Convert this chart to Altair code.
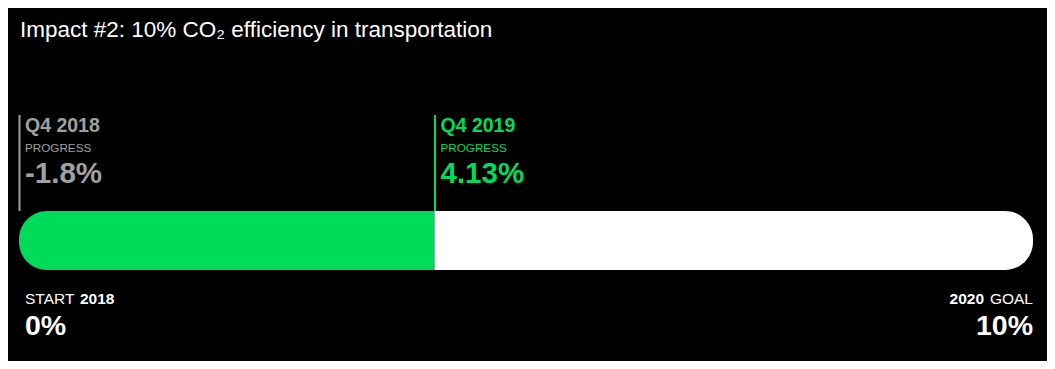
import altair as alt
import pandas as pd

TITLE = "Impact #2: 10% CO₂ efficiency in transportation"
quarters = ["Q4 2018", "Q4 2019"]
progress = [-1.8, 4.13]
marker_colors = ["#A0A0A0", "#00DC5A"]
progress_word = "PROGRESS"
start_value = 0
goal_value = 10
current_progress = 4.13
start_word = "START"
goal_word = "GOAL"
start_year = "2018"
goal_year = "2020"

FONT = "Liberation Sans"
GREEN = "#00DC5A"
W, H = 1006, 353

x_scale = alt.Scale(domain=[start_value, goal_value], clamp=True)
X = lambda f: alt.X(f, type="quantitative", scale=x_scale, axis=None)

markers = pd.DataFrame({
    "quarter": quarters,
    "value": progress,
    "label": [f"{v:g}%" for v in progress],
    "word": [progress_word] * len(quarters),
})
color = alt.Color("quarter:N", scale=alt.Scale(domain=quarters, range=marker_colors), legend=None)

done = pd.DataFrame({"start": [start_value], "end": [current_progress]})
remaining = pd.DataFrame({"start": [current_progress], "end": [goal_value]})
start_df = pd.DataFrame({"value": [start_value], "word": [start_word], "year": [start_year],
                         "pct": [f"{start_value:g}%"]})
goal_df = pd.DataFrame({"value": [goal_value], "word": [goal_word], "year": [goal_year],
                        "pct": [f"{goal_value:g}%"]})
title_df = pd.DataFrame({"t": [TITLE]})

title = alt.Chart(title_df).mark_text(
    align="left", baseline="alphabetic", font=FONT, fontSize=22.5, color="white"
).encode(x=alt.value(1), y=alt.value(29), text="t:N")

green_bar = alt.Chart(done).mark_rect(
    color=GREEN, cornerRadiusTopLeft=28, cornerRadiusBottomLeft=28
).encode(x=X("start"), x2="end", y=alt.value(203), y2=alt.value(262))

white_bar = alt.Chart(remaining).mark_rect(
    color="white", cornerRadiusTopRight=28, cornerRadiusBottomRight=28, x2Offset=8
).encode(x=X("start"), x2="end", y=alt.value(203), y2=alt.value(262))

rules = alt.Chart(markers).mark_rule(strokeWidth=2, xOffset=0.5).encode(
    x=X("value"), y=alt.value(107), y2=alt.value(203), color=color
)
q_text = alt.Chart(markers).mark_text(
    align="left", baseline="alphabetic", dx=6, font=FONT, fontWeight="bold", fontSize=19.5
).encode(x=X("value"), y=alt.value(124), text="quarter:N", color=color)
p_text = alt.Chart(markers).mark_text(
    align="left", baseline="alphabetic", dx=6, font=FONT, fontSize=11.7
).encode(x=X("value"), y=alt.value(144), text="word:N", color=color)
v_text = alt.Chart(markers).mark_text(
    align="left", baseline="alphabetic", dx=6, font=FONT, fontWeight="bold", fontSize=29.5
).encode(x=X("value"), y=alt.value(175), text="label:N", color=color)

s_word = alt.Chart(start_df).mark_text(
    align="left", baseline="alphabetic", dx=6, font=FONT, fontSize=15.5, color="white"
).encode(x=X("value"), y=alt.value(296), text="word:N")
s_year = alt.Chart(start_df).mark_text(
    align="left", baseline="alphabetic", dx=61, font=FONT, fontSize=15.5, fontWeight="bold", color="white"
).encode(x=X("value"), y=alt.value(296), text="year:N")
s_pct = alt.Chart(start_df).mark_text(
    align="left", baseline="alphabetic", dx=6, font=FONT, fontSize=28.5, fontWeight="bold", color="white"
).encode(x=X("value"), y=alt.value(327), text="pct:N")

g_word = alt.Chart(goal_df).mark_text(
    align="right", baseline="alphabetic", dx=8, font=FONT, fontSize=15.5, color="white"
).encode(x=X("value"), y=alt.value(296), text="word:N")
g_year = alt.Chart(goal_df).mark_text(
    align="right", baseline="alphabetic", dx=-41, font=FONT, fontSize=15.5, fontWeight="bold", color="white"
).encode(x=X("value"), y=alt.value(296), text="year:N")
g_pct = alt.Chart(goal_df).mark_text(
    align="right", baseline="alphabetic", dx=8, font=FONT, fontSize=28.5, fontWeight="bold", color="white"
).encode(x=X("value"), y=alt.value(327), text="pct:N")

chart = alt.layer(
    title, green_bar, white_bar, rules, q_text, p_text, v_text,
    s_word, s_year, s_pct, g_word, g_year, g_pct
).properties(
    width=W, height=H,
    padding={"left": 11, "right": 22, "top": 0, "bottom": 0},
    autosize=alt.AutoSizeParams(type="none"),
    background="#000000",
).configure_view(strokeWidth=0)

chart.save("out.html", embed_options={"renderer": "svg", "actions": False})
